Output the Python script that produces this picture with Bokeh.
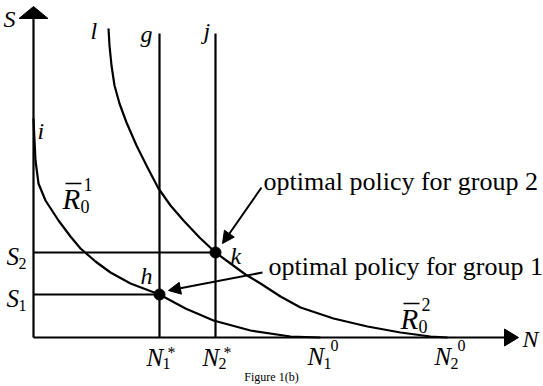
from bokeh.plotting import figure
from bokeh.models import Range1d, Arrow, NormalHead
from bokeh.core.properties import value
from bokeh.embed import file_html
from bokeh.resources import INLINE

# ---- data (arbitrary units, origin at axes crossing) ----
curve1_N = [0, 1, 2, 5, 12, 25, 37, 47, 62, 77, 97, 126, 152, 180, 217, 257, 287]
curve1_S = [219, 197, 177, 154, 137, 117, 101, 89, 76, 65, 54, 43, 29, 17, 7, 1, 0]
curve2_N = [75, 76, 78, 81, 86, 93, 103, 114, 125, 137, 150, 166, 182, 197, 212, 227,
            247, 267, 300, 334, 367, 397, 414]
curve2_S = [309, 292, 272, 252, 234, 215, 192, 170, 149, 132, 117, 100, 85, 74, 63, 54,
            41, 30, 19, 11, 5, 1, 0]
N_star = [126, 182]          # N1*, N2*
S_opt = [43, 85]             # S1, S2
N_zero = [287, 414]          # N1^0, N2^0
vline_top = 304              # top of vertical lines g and j
N_axis_end = 485
S_axis_end = 331

FONT = value("Liberation Serif")

p = figure(width=543, height=386, x_range=Range1d(-33, 510), y_range=Range1d(-49, 337),
           output_backend="svg", toolbar_location=None, x_axis_type=None, y_axis_type=None,
           min_border=0, min_border_left=0, min_border_right=0, min_border_top=0,
           min_border_bottom=0)
p.grid.visible = False
p.outline_line_color = None
p.background_fill_color = "white"
p.border_fill_color = "white"

LW = 2.2
# axes
p.line([0, 0], [0, S_axis_end - 12], line_color="black", line_width=LW)
p.line([0, N_axis_end - 13], [0, 0], line_color="black", line_width=LW)
p.patch([0, -14.5, 14.5], [S_axis_end, S_axis_end - 12, S_axis_end - 12], color="black")
p.patch([N_axis_end, N_axis_end - 14, N_axis_end - 14], [0, 8.5, -8.5], color="black")

# vertical lines g, j and horizontal S lines
for n in N_star:
    p.line([n, n], [0, vline_top], line_color="black", line_width=LW)
for n, s in zip(N_star, S_opt):
    p.line([0, n], [s, s], line_color="black", line_width=LW)

# curves
p.line(curve1_N, curve1_S, line_color="black", line_width=LW, line_join="round")
p.line(curve2_N, curve2_S, line_color="black", line_width=LW, line_join="round")

# optimal points
p.scatter(N_star, S_opt, size=11, color="black")


def txt(x, base, s, size, italic=True, align="left"):
    # place text so that its alphabetic baseline sits at `base`
    p.text(x=[x], y=[base + 0.33 * size], text=[s], text_font=FONT,
           text_font_size=f"{size}px",
           text_font_style="italic" if italic else "normal", text_align=align,
           text_baseline="middle", text_color="black")


# axis labels
txt(-30, 311, "S", 24)
txt(489, -9, "N", 24)

# curve/line labels
txt(57, 299, "l", 24)
txt(N_star[0] - 19, 296, "g", 24)
txt(N_star[1] - 12, 299, "j", 24)
txt(4, 199, "i", 24)
txt(N_star[0] - 19, S_opt[0] + 11, "h", 24)
txt(N_star[1] + 15, S_opt[1] - 11, "k", 24)

# S1, S2
for s, sub in zip(S_opt, ["1", "2"]):
    txt(-27, s - 12, "S", 25)
    txt(-15, s - 16, sub, 16, italic=False)

# N1*, N2*
for n, sub in zip(N_star, ["1", "2"]):
    txt(n - 13, -28, "N", 25)
    txt(n + 3, -31, sub, 16, italic=False)
    txt(n + 8, -20, "*", 16, italic=False)

# N1^0, N2^0
for n, sub in zip(N_zero, ["1", "2"]):
    txt(n - 13, -27, "N", 25)
    txt(n + 3, -31, sub, 16, italic=False)
    txt(n + 10, -13, "0", 16, italic=False)

# R-bar labels
for (rx, ry, sup) in [(29, 129, "1"), (367, 9, "2")]:
    txt(rx, ry, "R", 29)
    txt(rx + 18, ry - 4, "0", 18, italic=False)
    txt(rx + 21, ry + 18, sup, 18, italic=False)
    p.line([rx + 3, rx + 19], [ry + 25, ry + 25], line_color="black", line_width=1.5)

# annotations
txt(230, 147, "optimal policy for group 2", 26, italic=False)
txt(235, 62, "optimal policy for group 1", 26, italic=False)
p.add_layout(Arrow(x_start=228, y_start=150, x_end=N_star[1] + 7, y_end=S_opt[1] + 9,
                   line_width=2, end=NormalHead(size=12, fill_color="black",
                                               line_color="black")))
p.add_layout(Arrow(x_start=229, y_start=65, x_end=N_star[0] + 9, y_end=S_opt[0] + 4,
                   line_width=2, end=NormalHead(size=12, fill_color="black",
                                               line_color="black")))

txt(238, -43, "Figure 1(b)", 12, italic=False, align="center")

open("out.html", "w").write(file_html(p, INLINE))
